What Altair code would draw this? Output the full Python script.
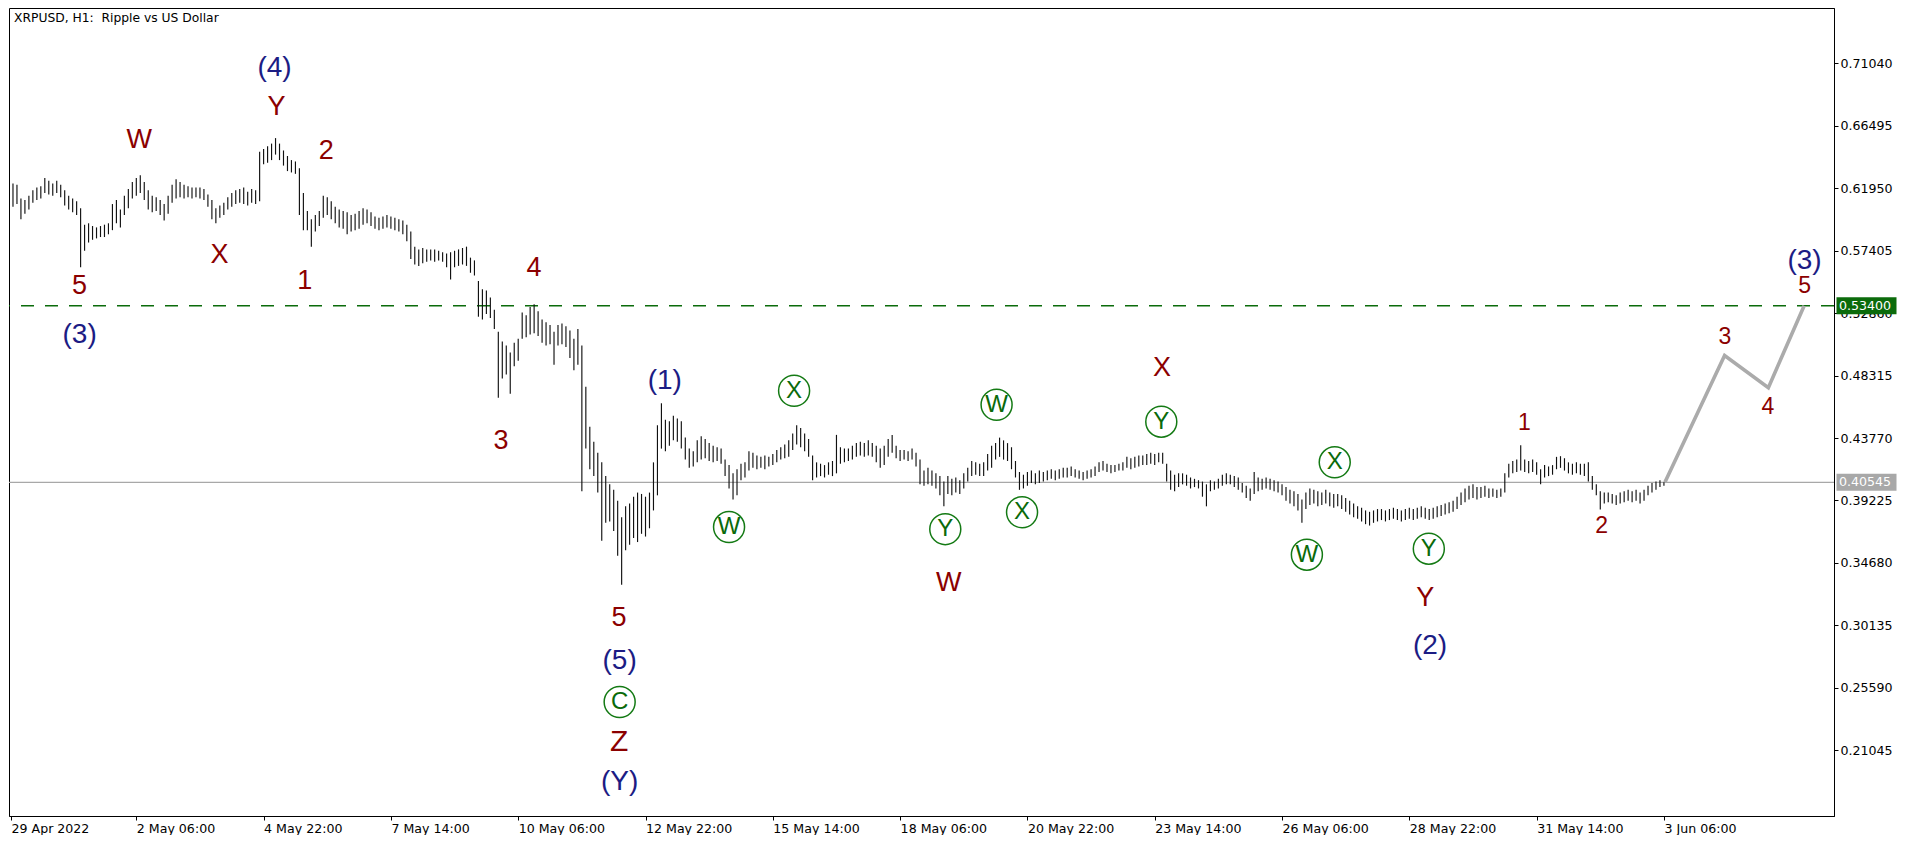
import altair as alt
import pandas as pd
from datetime import datetime, timezone

# ---------------- data ----------------
title_text = "XRPUSD, H1:\u00a0 Ripple vs US Dollar"
start_time = datetime(2022, 4, 29, 15, tzinfo=timezone.utc)   # first bar
bar_hours = 2   # each bar below spans two hours

lows = [
    0.606, 0.608, 0.597, 0.601, 0.604, 0.609, 0.611, 0.612, 0.616, 0.615, 0.614, 0.616,
    0.613, 0.607, 0.604, 0.602, 0.600, 0.562, 0.574, 0.580, 0.582, 0.583, 0.584, 0.584,
    0.586, 0.589, 0.594, 0.591, 0.600, 0.605, 0.612, 0.614, 0.616, 0.611, 0.604, 0.602,
    0.603, 0.600, 0.596, 0.601, 0.609, 0.612, 0.613, 0.612, 0.613, 0.612, 0.613, 0.612,
    0.611, 0.606, 0.597, 0.594, 0.598, 0.600, 0.604, 0.606, 0.608, 0.609, 0.608, 0.607,
    0.609, 0.608, 0.610, 0.637, 0.638, 0.640, 0.644, 0.640, 0.636, 0.632, 0.631, 0.630,
    0.600, 0.589, 0.589, 0.577, 0.588, 0.592, 0.598, 0.600, 0.597, 0.594, 0.591, 0.590,
    0.586, 0.588, 0.589, 0.590, 0.593, 0.594, 0.592, 0.590, 0.589, 0.590, 0.591, 0.590,
    0.589, 0.588, 0.586, 0.581, 0.568, 0.564, 0.563, 0.565, 0.566, 0.567, 0.566, 0.567,
    0.566, 0.562, 0.553, 0.562, 0.563, 0.564, 0.563, 0.558, 0.556, 0.526, 0.524, 0.528,
    0.525, 0.517, 0.467, 0.481, 0.484, 0.470, 0.490, 0.494, 0.510, 0.511, 0.513, 0.514,
    0.512, 0.507, 0.505, 0.506, 0.491, 0.505, 0.506, 0.504, 0.496, 0.487, 0.491, 0.399,
    0.430, 0.415, 0.410, 0.398, 0.363, 0.376, 0.377, 0.370, 0.352, 0.331, 0.356, 0.360,
    0.365, 0.362, 0.368, 0.366, 0.372, 0.385, 0.396, 0.430, 0.428, 0.432, 0.436, 0.435,
    0.430, 0.422, 0.416, 0.417, 0.420, 0.422, 0.423, 0.421, 0.420, 0.421, 0.419, 0.410,
    0.401, 0.393, 0.396, 0.407, 0.409, 0.414, 0.416, 0.415, 0.416, 0.415, 0.417, 0.418,
    0.420, 0.422, 0.423, 0.424, 0.429, 0.433, 0.431, 0.428, 0.424, 0.407, 0.409, 0.410,
    0.409, 0.411, 0.410, 0.412, 0.419, 0.420, 0.421, 0.422, 0.424, 0.425, 0.424, 0.425,
    0.424, 0.420, 0.416, 0.418, 0.424, 0.427, 0.423, 0.421, 0.422, 0.421, 0.422, 0.417,
    0.404, 0.403, 0.404, 0.403, 0.401, 0.396, 0.388, 0.397, 0.396, 0.398, 0.397, 0.401,
    0.406, 0.410, 0.411, 0.410, 0.410, 0.414, 0.416, 0.422, 0.424, 0.422, 0.421, 0.415,
    0.409, 0.400, 0.401, 0.403, 0.405, 0.404, 0.405, 0.406, 0.407, 0.408, 0.407, 0.408,
    0.409, 0.409, 0.410, 0.409, 0.408, 0.407, 0.408, 0.409, 0.410, 0.413, 0.414, 0.413,
    0.412, 0.413, 0.414, 0.414, 0.416, 0.415, 0.416, 0.417, 0.418, 0.418, 0.419, 0.418,
    0.420, 0.419, 0.406, 0.400, 0.399, 0.402, 0.404, 0.403, 0.401, 0.402, 0.401, 0.395,
    0.388, 0.399, 0.400, 0.401, 0.403, 0.404, 0.404, 0.402, 0.400, 0.398, 0.394, 0.392,
    0.397, 0.399, 0.400, 0.401, 0.400, 0.399, 0.398, 0.396, 0.392, 0.390, 0.388, 0.385,
    0.376, 0.386, 0.389, 0.390, 0.388, 0.389, 0.390, 0.388, 0.387, 0.388, 0.386, 0.384,
    0.382, 0.380, 0.379, 0.377, 0.375, 0.374, 0.376, 0.377, 0.378, 0.377, 0.378, 0.379,
    0.378, 0.377, 0.378, 0.379, 0.378, 0.379, 0.380, 0.379, 0.378, 0.379, 0.380, 0.381,
    0.382, 0.383, 0.384, 0.386, 0.389, 0.391, 0.393, 0.394, 0.393, 0.394, 0.395, 0.394,
    0.395, 0.394, 0.395, 0.398, 0.409, 0.412, 0.413, 0.414, 0.413, 0.412, 0.413, 0.411,
    0.404, 0.409, 0.410, 0.411, 0.415, 0.416, 0.414, 0.412, 0.411, 0.412, 0.411, 0.410,
    0.406, 0.400, 0.396, 0.3856, 0.390, 0.391, 0.390, 0.389, 0.390, 0.391, 0.392, 0.391,
    0.392, 0.390, 0.392, 0.396, 0.398, 0.400, 0.402, 0.403,
]

highs = [
    0.623, 0.622, 0.612, 0.611, 0.614, 0.618, 0.620, 0.621, 0.627, 0.625, 0.623, 0.625,
    0.622, 0.618, 0.614, 0.612, 0.610, 0.605, 0.593, 0.594, 0.592, 0.591, 0.592, 0.593,
    0.594, 0.608, 0.611, 0.604, 0.614, 0.619, 0.624, 0.627, 0.629, 0.624, 0.618, 0.614,
    0.613, 0.611, 0.608, 0.614, 0.622, 0.626, 0.624, 0.622, 0.621, 0.620, 0.620, 0.620,
    0.619, 0.615, 0.611, 0.605, 0.607, 0.609, 0.613, 0.616, 0.618, 0.619, 0.620, 0.617,
    0.619, 0.618, 0.646, 0.648, 0.650, 0.652, 0.656, 0.652, 0.647, 0.643, 0.640, 0.639,
    0.634, 0.616, 0.603, 0.597, 0.600, 0.603, 0.614, 0.613, 0.610, 0.606, 0.604, 0.603,
    0.602, 0.600, 0.601, 0.603, 0.605, 0.604, 0.602, 0.599, 0.598, 0.599, 0.600, 0.599,
    0.598, 0.597, 0.596, 0.593, 0.588, 0.577, 0.575, 0.576, 0.575, 0.575, 0.575, 0.574,
    0.573, 0.572, 0.573, 0.574, 0.575, 0.576, 0.577, 0.569, 0.567, 0.552, 0.546, 0.545,
    0.540, 0.531, 0.515, 0.508, 0.505, 0.500, 0.507, 0.510, 0.529, 0.527, 0.533, 0.535,
    0.530, 0.524, 0.522, 0.520, 0.515, 0.520, 0.521, 0.519, 0.516, 0.510, 0.517, 0.505,
    0.475, 0.446, 0.435, 0.427, 0.420, 0.410, 0.404, 0.400, 0.392, 0.380, 0.388, 0.390,
    0.395, 0.398, 0.397, 0.395, 0.398, 0.420, 0.447, 0.463, 0.451, 0.450, 0.454, 0.452,
    0.450, 0.438, 0.430, 0.428, 0.436, 0.439, 0.437, 0.434, 0.432, 0.431, 0.430, 0.422,
    0.418, 0.412, 0.415, 0.419, 0.420, 0.428, 0.427, 0.425, 0.424, 0.425, 0.424, 0.426,
    0.429, 0.431, 0.433, 0.436, 0.441, 0.447, 0.445, 0.441, 0.437, 0.425, 0.420, 0.419,
    0.418, 0.420, 0.421, 0.440, 0.431, 0.430, 0.430, 0.432, 0.434, 0.435, 0.434, 0.436,
    0.434, 0.432, 0.430, 0.432, 0.437, 0.440, 0.432, 0.429, 0.429, 0.428, 0.430, 0.427,
    0.422, 0.414, 0.416, 0.414, 0.412, 0.410, 0.406, 0.410, 0.408, 0.409, 0.407, 0.412,
    0.416, 0.421, 0.420, 0.419, 0.420, 0.426, 0.432, 0.434, 0.438, 0.436, 0.434, 0.431,
    0.421, 0.413, 0.411, 0.413, 0.414, 0.412, 0.414, 0.413, 0.414, 0.415, 0.414, 0.415,
    0.416, 0.416, 0.417, 0.415, 0.414, 0.413, 0.414, 0.415, 0.417, 0.420, 0.421, 0.419,
    0.418, 0.418, 0.419, 0.420, 0.424, 0.423, 0.424, 0.425, 0.425, 0.426, 0.427, 0.426,
    0.427, 0.427, 0.419, 0.414, 0.411, 0.412, 0.412, 0.411, 0.409, 0.408, 0.407, 0.406,
    0.404, 0.407, 0.406, 0.408, 0.411, 0.412, 0.411, 0.410, 0.409, 0.405, 0.403, 0.401,
    0.413, 0.409, 0.408, 0.409, 0.408, 0.407, 0.406, 0.404, 0.402, 0.400, 0.399, 0.397,
    0.393, 0.398, 0.401, 0.400, 0.399, 0.398, 0.400, 0.398, 0.397, 0.397, 0.396, 0.394,
    0.392, 0.390, 0.388, 0.387, 0.385, 0.384, 0.385, 0.386, 0.386, 0.385, 0.386, 0.387,
    0.386, 0.385, 0.386, 0.387, 0.386, 0.387, 0.388, 0.387, 0.386, 0.387, 0.388, 0.389,
    0.390, 0.391, 0.392, 0.395, 0.398, 0.401, 0.403, 0.404, 0.402, 0.402, 0.403, 0.401,
    0.401, 0.400, 0.401, 0.412, 0.419, 0.421, 0.422, 0.4325, 0.422, 0.421, 0.422, 0.420,
    0.415, 0.418, 0.417, 0.418, 0.424, 0.4245, 0.423, 0.420, 0.419, 0.420, 0.419, 0.419,
    0.420, 0.410, 0.404, 0.399, 0.398, 0.398, 0.397, 0.396, 0.398, 0.399, 0.400, 0.399,
    0.400, 0.398, 0.400, 0.403, 0.405, 0.406, 0.407, 0.4055,
]

price_ticks = [0.71040, 0.66495, 0.61950, 0.57405, 0.52860, 0.48315,
               0.43770, 0.39225, 0.34680, 0.30135, 0.25590, 0.21045]
time_ticks = [0, 63, 127, 191, 255, 319, 383, 447, 511, 575, 639, 703, 767, 831]  # hours from first bar
first_label = "29 Apr 2022"

proj_hours = [831.5, 861.5, 883.5, 901.5]
proj_prices = [0.40545, 0.4978, 0.4744, 0.5340]

level_price = 0.53400
last_price = 0.40545

red_text = ["W", "Y", "2", "X", "1", "5", "4", "3", "5", "W", "X", "Y"]
red_hour = [64.5, 133.5, 158.5, 104.8, 147.7, 34.5, 263.0, 246.3, 305.7, 471.5, 578.7, 711.0]
red_price = [0.6545, 0.6787, 0.6464, 0.5712, 0.5518, 0.5485, 0.5615, 0.4354, 0.3066, 0.3319, 0.4886, 0.3214]

z_text = ["Z"]
z_hour = [305.7]
z_price = [0.2168]

small_text = ["1", "2", "3", "4", "5"]
small_hour = [760.8, 799.7, 861.7, 883.3, 901.7]
small_price = [0.4483, 0.3738, 0.5111, 0.4602, 0.5483]

navy_text = ["(4)", "(3)", "(1)", "(5)", "(Y)", "(2)", "(3)"]
navy_hour = [132.5, 34.5, 328.7, 306.0, 306.0, 713.4, 901.7]
navy_price = [0.7070, 0.5130, 0.4792, 0.2752, 0.1871, 0.2866, 0.5662]

circ_text = ["C", "X", "W", "W", "Y", "X", "Y", "X", "W", "Y"]
circ_hour = [306.0, 393.7, 361.0, 495.5, 469.7, 508.3, 578.3, 665.5, 651.5, 712.8]
circ_price = [0.2456, 0.4721, 0.3729, 0.4619, 0.3714, 0.3837, 0.4496, 0.4200, 0.3528, 0.3572]

# ---------------- layout ----------------
W, H = 1825, 808
X_DOMAIN = [-1, 916.5]
Y_DOMAIN = [0.1626, 0.7507]
AXIS_FONT = "DejaVu Sans"
LABEL_FONT = "Liberation Sans"
RED = "#8b0000"
NAVY = "#1c1c84"
GREEN = "#0a6a0a"

xs = alt.Scale(domain=X_DOMAIN, nice=False, zero=False)
ys = alt.Scale(domain=Y_DOMAIN, nice=False, zero=False)

base_ms = int(start_time.timestamp() * 1000)
label_expr = ("datum.value == 0 ? '" + first_label + "' : utcFormat(" + str(base_ms)
              + " + datum.value * 3600000, '%-d %b %H:%M')")

xaxis = alt.Axis(values=time_ticks, labelExpr=label_expr, title=None, grid=False,
                 orient="bottom", labelAlign="left", labelBaseline="top", labelPadding=2,
                 tickSize=4, tickColor="black", domainColor="black", labelColor="black",
                 labelFont=AXIS_FONT, labelFontSize=12.6, labelOverlap=False, labelFlush=False)
yaxis = alt.Axis(values=price_ticks, format=".5f", title=None, grid=False, orient="right",
                 labelAlign="left", labelBaseline="middle", labelPadding=2, tickSize=4,
                 tickColor="black", domainColor="black", labelColor="black",
                 labelFont=AXIS_FONT, labelFontSize=12.6, labelOverlap=False, labelFlush=False)


def X(field):
    return alt.X(field, type="quantitative", scale=xs, axis=xaxis)


def Y(field):
    return alt.Y(field, type="quantitative", scale=ys, axis=yaxis)


bars = pd.DataFrame({
    "t": [bar_hours * k + bar_hours / 2 for k in range(len(lows))],
    "lo": lows,
    "hi": highs,
})

bar_layer = alt.Chart(bars).mark_rule(color="#111111", strokeWidth=1.15).encode(
    x=X("t"), y=Y("lo"), y2="hi")

level_df = pd.DataFrame({"p": [level_price]})
last_df = pd.DataFrame({"p": [last_price]})

level_line = alt.Chart(level_df).mark_rule(color="#0b6b0b", strokeDash=[13, 11], strokeWidth=1.3).encode(y=Y("p"))
last_line = alt.Chart(last_df).mark_rule(color="#a8a8a8", strokeWidth=1.3).encode(y=Y("p"))

proj_df = pd.DataFrame({"t": proj_hours, "p": proj_prices, "o": list(range(len(proj_hours)))})
proj_line = alt.Chart(proj_df).mark_line(color="#ababab", strokeWidth=3.6).encode(
    x=X("t"), y=Y("p"), order="o:Q")

# price tags on the axis
ppu = H / (Y_DOMAIN[1] - Y_DOMAIN[0])
half = 8.5 / ppu
tags = pd.DataFrame({
    "p": [level_price, last_price],
    "lo": [level_price - half, last_price - half],
    "hi": [level_price + half, last_price + half],
    "txt": [f"{level_price:.5f}", f"{last_price:.5f}"],
    "col": ["#0b6b0b", "#a8a8a8"],
})
tag_box = alt.Chart(tags).mark_rect().encode(
    x=alt.value(W + 2.5), x2=alt.value(W + 62.5), y=Y("lo"), y2="hi",
    color=alt.Color("col:N", scale=None))
tag_txt = alt.Chart(tags).mark_text(align="left", baseline="middle", color="white",
                                    font=AXIS_FONT, fontSize=12.6).encode(
    x=alt.value(W + 5), y=Y("p"), text="txt:N")


def label_layer(texts, hours, prices, color, size):
    df = pd.DataFrame({"t": hours, "p": prices, "s": texts})
    return alt.Chart(df).mark_text(color=color, fontSize=size, font=LABEL_FONT,
                                   align="center", baseline="middle").encode(
        x=X("t"), y=Y("p"), text="s:N")


red_layer = label_layer(red_text, red_hour, red_price, RED, 27)
z_layer = label_layer(z_text, z_hour, z_price, RED, 30)
small_layer = label_layer(small_text, small_hour, small_price, RED, 23)
navy_layer = label_layer(navy_text, navy_hour, navy_price, NAVY, 28)

circ_df = pd.DataFrame({"t": circ_hour, "p": circ_price, "s": circ_text})
circ_ring = alt.Chart(circ_df).mark_point(shape="circle", filled=False, size=31 * 31,
                                          color="#147a14", strokeWidth=1.5, opacity=1).encode(
    x=X("t"), y=Y("p"))
circ_letter = alt.Chart(circ_df).mark_text(color=GREEN, fontSize=24, font=LABEL_FONT,
                                           align="center", baseline="middle").encode(
    x=X("t"), y=Y("p"), text="s:N")

title_layer = alt.Chart(pd.DataFrame({"s": [title_text]})).mark_text(
    align="left", baseline="top", font=AXIS_FONT, fontSize=12.3, color="black").encode(
    x=alt.value(5), y=alt.value(4), text="s:N")

chart = alt.layer(
    level_line, last_line, bar_layer, proj_line,
    red_layer, z_layer, small_layer, navy_layer, circ_ring, circ_letter,
    tag_box, tag_txt, title_layer,
).properties(
    width=W, height=H, padding=0, background="white"
).configure_view(stroke="black", strokeWidth=1)

chart.save("out.html", embed_options={"renderer": "svg", "actions": False})
